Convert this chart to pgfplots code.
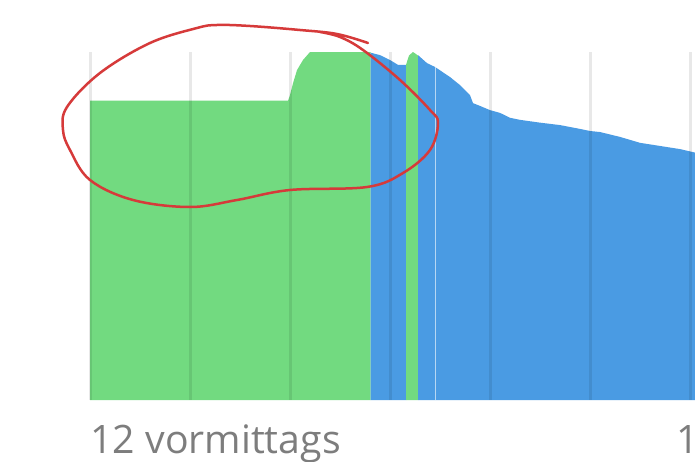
\documentclass[border=0pt]{standalone}
\usepackage{pgfplots}
\pgfplotsset{compat=1.18}
\usepackage{fontspec}
\setmainfont{Open Sans}
\definecolor{battgreen}{RGB}{114,218,128}
\definecolor{battblue}{RGB}{74,155,227}
\definecolor{labelgray}{RGB}{125,125,125}
\definecolor{penred}{RGB}{214,58,58}
\begin{document}
\begin{tikzpicture}[x=0.5pt,y=0.5pt]
\useasboundingbox[fill=white] (0,0) rectangle (695,461);
\begin{axis}[at={(45pt,30.5pt)},anchor=south west,scale only axis,width=302.5pt,height=174pt,
  xmin=0,xmax=6.05,ymin=0,ymax=100,clip=true,
  axis line style={draw=none},tick style={draw=none},
  xtick={0,1,2,3,4,5,6},xticklabels={},ytick=\empty,
  xmajorgrids,grid style={black,opacity=0.09,line width=1.5pt},
  axis on top]
% charging (green)
\addplot[fill=battgreen,draw=none] coordinates {(0,86) (1.98,86) (2.0,87.6) (2.03,91) (2.07,94.8) (2.13,97.7) (2.2,100) (2.807,100)} \closedcycle;
% discharging (blue)
\addplot[fill=battblue,draw=none] coordinates {(2.807,99.8) (2.9,99.1) (3.0,97.7) (3.08,96.3) (3.16,96.3)} \closedcycle;
\addplot[fill=battgreen,draw=none] coordinates {(3.16,96.3) (3.19,99) (3.23,100) (3.26,99.4) (3.28,99)} \closedcycle;
\addplot[fill=battblue,draw=none] coordinates {(3.28,99.1) (3.37,96.8) (3.45,95.7) (3.6,92.8) (3.7,90.5) (3.8,87.6) (3.83,85.3) (3.9,84.5) (4.0,83.3) (4.1,82.5) (4.2,81.1) (4.3,80.5) (4.5,79.7) (4.7,79.0) (4.9,77.9) (5.0,77.3) (5.1,77.0) (5.3,75.6) (5.5,73.9) (5.7,73.0) (5.9,72.1) (6.05,71.1)} \closedcycle;
\addplot[white,opacity=0.6,line width=0.4pt] coordinates {(3.45,0) (3.45,95.7)};
\end{axis}
\node[anchor=base west,inner sep=0pt,text=labelgray,font=\fontsize{19.6}{23}\selectfont] at (90,8) {12 vormittags};
\node[anchor=base west,inner sep=0pt,text=labelgray,font=\fontsize{19.6}{23}\selectfont] at (676,8) {1};
\draw[penred,line width=1.25pt,line cap=round] plot[smooth,tension=0.6] coordinates {
 (368,418) (337,427) (300,431) (250,435) (217,436) (197,433) (150,418) (100,388) (67,354) (63,331) (70,311) (90,281) (133,261) (190,254) (237,261) (290,271) (367,274) (403,288) (430,311) (438,338) (430,351) (400,381) (363,411) (340,424) (320,429)};
\end{tikzpicture}
\end{document}
